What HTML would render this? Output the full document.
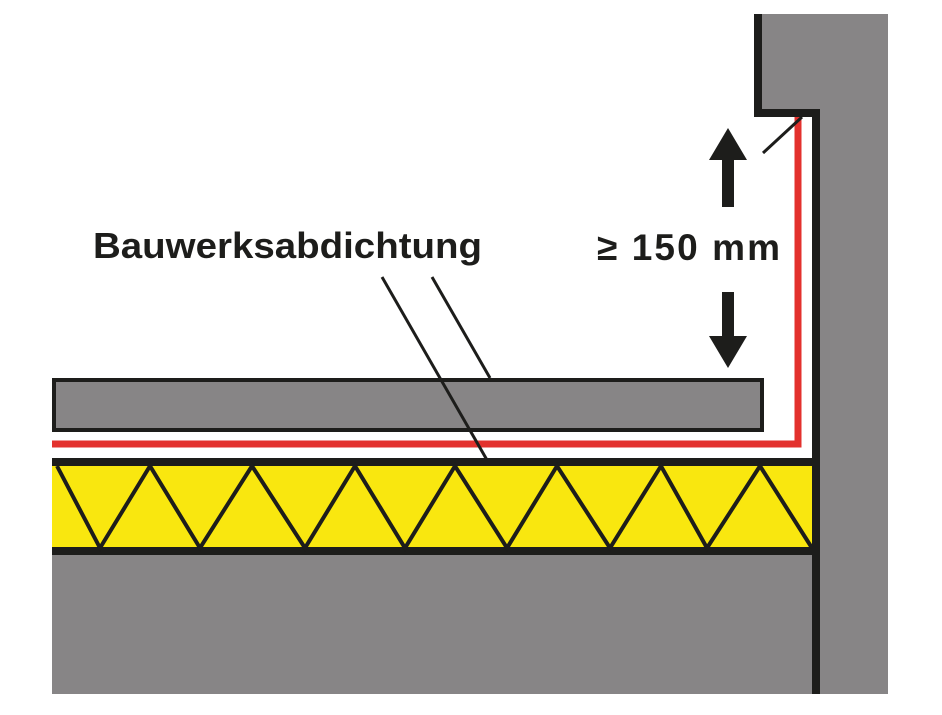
<!DOCTYPE html><html><head><style>body{margin:0;background:#fff}</style></head><body>
<svg width="942" height="710" xmlns="http://www.w3.org/2000/svg">
<rect x="0" y="0" width="942" height="710" fill="#fff"/>
<polygon points="754,14 888,14 888,694 812,694 812,113 758,113" fill="#878586"/>
<polyline points="758,14 758,113 816,113 816,694" fill="none" stroke="#1d1d1b" stroke-width="8"/>
<rect x="52" y="555" width="760" height="139" fill="#878586"/>
<rect x="52" y="462" width="760" height="90" fill="#f9e70f"/>
<line x1="52" y1="462" x2="812" y2="462" stroke="#1d1d1b" stroke-width="8"/>
<line x1="52" y1="551" x2="812" y2="551" stroke="#1d1d1b" stroke-width="8"/>
<polyline points="57,466 100,548 150,466 200,548 252,466 305,548 355,466 405,548 455,466 507,548 557,466 610,548 661,466 707,548 760,466 812,548" fill="none" stroke="#1d1d1b" stroke-width="4" stroke-linejoin="miter"/>
<polyline points="52,444 798,444 798,117" fill="none" stroke="#e3312d" stroke-width="7"/>
<rect x="54" y="380" width="708" height="50" fill="#878586" stroke="#1d1d1b" stroke-width="4"/>
<line x1="763" y1="153" x2="802" y2="117" stroke="#1d1d1b" stroke-width="3"/>
<line x1="382" y1="277" x2="487" y2="460" stroke="#1d1d1b" stroke-width="3"/>
<line x1="432" y1="277" x2="490" y2="378" stroke="#1d1d1b" stroke-width="3"/>
<polygon points="728,128 747,160 734,160 734,207 722,207 722,160 709,160" fill="#1d1d1b"/>
<polygon points="722,292 734,292 734,336 747,336 728,368 709,336 722,336" fill="#1d1d1b"/>
<text x="93" y="258" font-family="Liberation Sans, sans-serif" font-weight="bold" font-size="36" fill="#1d1d1b" textLength="389" lengthAdjust="spacingAndGlyphs">Bauwerksabdichtung</text>
<text x="597" y="260" font-family="Liberation Sans, sans-serif" font-weight="bold" font-size="37" fill="#1d1d1b" textLength="183" lengthAdjust="spacing">≥ 150 mm</text>
</svg>
</body></html>
